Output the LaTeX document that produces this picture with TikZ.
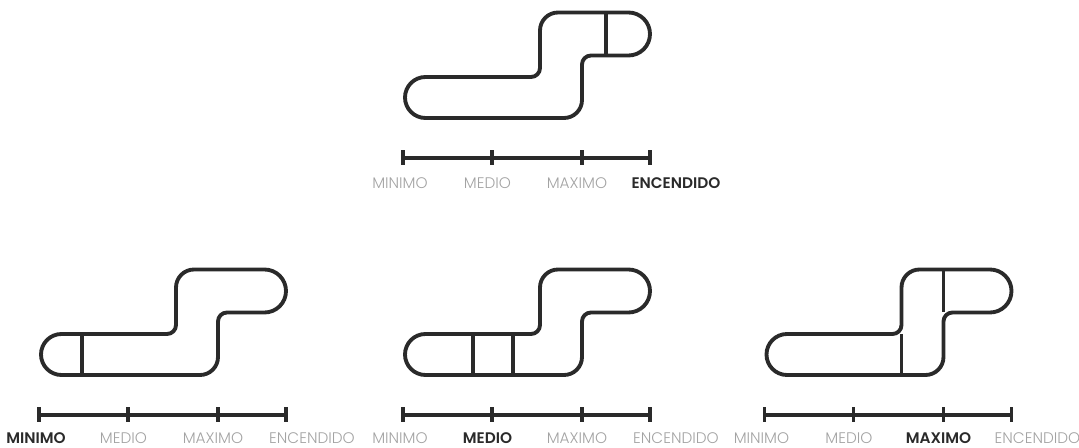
\documentclass[tikz,border=0pt]{standalone}
\usepackage{fontspec}
\setmainfont{Poppins}[BoldFont={Poppins SemiBold}]
\newfontfamily\thinfont{Poppins Light}
\definecolor{trackdark}{HTML}{2A2A2A}
\definecolor{labelgray}{HTML}{A3A3A3}
\usetikzlibrary{positioning}

% outline of the track (pixel units, y downwards)
\newcommand{\trackline}{%
  \draw[track] (425.5,118) arc[start angle=90, end angle=270, radius=20.5]
    -- (531,77) arc[start angle=90, end angle=0, radius=9]
    -- (540,30.5) arc[start angle=180, end angle=270, radius=18]
    -- (628.5,12.5) arc[start angle=270, end angle=450, radius=21.5]
    -- (591,55.5) arc[start angle=270, end angle=180, radius=9]
    -- (582,100) arc[start angle=0, end angle=90, radius=18]
    -- cycle;}

\begin{document}
\begin{tikzpicture}[x=0.75pt, y=-0.75pt,
  track/.style={draw=trackdark, line width=2.9pt, line join=round},
  bar/.style={draw=trackdark, line width=2.9pt},
  offlab/.style={anchor=base, text=labelgray, font=\fontsize{11.5}{12}\selectfont\thinfont, inner sep=0pt},
  onlab/.style={anchor=base, text=trackdark, font=\fontsize{11.5}{12}\selectfont\bfseries, inner sep=0pt}
]
  \useasboundingbox (0,0) rectangle (1079,448);

  \foreach \dx/\dy/\ly/\on/\k in {0/0/188.5/4/top, -364/257/444/1/min, 0/257/444/2/med, 361.5/257/444/3/max} {
    \begin{scope}[shift={(\dx,\dy)}]
      \trackline
      % level scale
      \coordinate (\k-a) at (403,158);
      \coordinate (\k-d) at (650,158);
      \draw[bar] (\k-a) -- (\k-d);
      \foreach \tx in {403, 492, 582, 650}
        \draw[bar] (\tx,150.5) -- (\tx,165.5);
    \end{scope}
    \foreach \t/\lx [count=\i] in {MINIMO/400, MEDIO/487.5, MAXIMO/577, ENCENDIDO/676} {
      \ifnum\i=\on \def\st{onlab}\else\def\st{offlab}\fi
      \node[\st] (\k-lab\i) at (\lx+\dx,\ly) {\t};
    }
  }

  % dividers inside the track
  \draw[track] (606,12.5) -- (606,55.5);
  \draw[track] (82,334) -- (82,375);
  \draw[track] (473,334) -- (473,375);
  \draw[track] (513,334) -- (513,375);
  \draw[track] (901.5,334) -- (901.5,375);
  \draw[track] (943.5,269.5) -- (943.5,312.5);
\end{tikzpicture}
\end{document}
